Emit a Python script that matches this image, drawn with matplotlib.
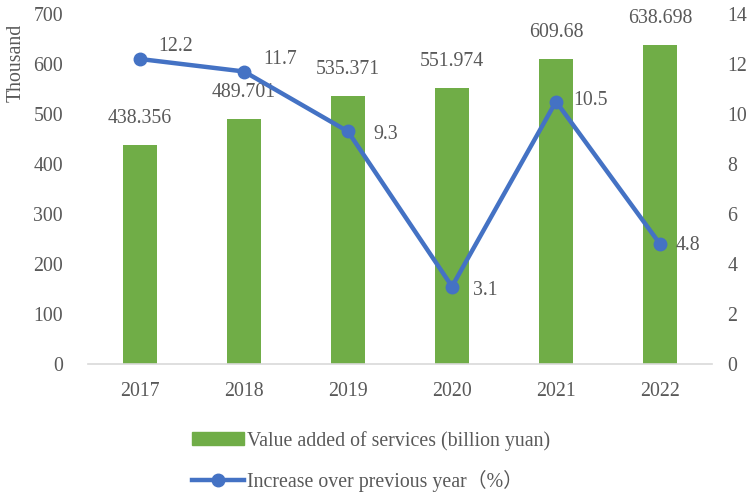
import matplotlib
matplotlib.use("Agg")
import matplotlib.pyplot as plt
from matplotlib.lines import Line2D
from matplotlib.patches import Patch

years = ["2017", "2018", "2019", "2020", "2021", "2022"]
value_added = [438.356, 489.701, 535.371, 551.974, 609.68, 638.698]
value_labels = ["438.356", "489.701", "535.371", "551.974", "609.68", "638.698"]
growth = [12.2, 11.7, 9.3, 3.1, 10.5, 4.8]
growth_labels = ["12.2", "11.7", "9.3", "3.1", "10.5", "4.8"]
left_ticks = [0, 100, 200, 300, 400, 500, 600, 700]
right_ticks = [0, 2, 4, 6, 8, 10, 12, 14]

GREEN = "#70AD47"
BLUE = "#4472C4"
GREY = "#595959"
plt.rcParams['font.family'] = ['Liberation Serif', 'Noto Sans CJK SC', 'DejaVu Serif']
FS = 14.3

fig = plt.figure(figsize=(7.51, 4.92), dpi=100)
ax = fig.add_axes([88/751, 1-364/492, 624/751, 350/492])
x = list(range(len(years)))
ax.bar(x, value_added, width=0.32, color=GREEN, zorder=2)
ax.set_xlim(-0.5, len(years)-0.5)
ax.set_ylim(0, 700)
ax.set_yticks(left_ticks)
ax.set_xticks(x)
ax.set_xticklabels(years)
for s in ["top", "right", "left"]:
    ax.spines[s].set_visible(False)
ax.spines["bottom"].set_color("#D9D9D9")
ax.spines["bottom"].set_linewidth(1.2)
ax.tick_params(axis="both", length=0, labelsize=FS, colors=GREY)
ax.tick_params(axis="x", pad=13)
ax.tick_params(axis="y", pad=18)
ax.set_ylabel("Thousand", fontsize=FS, color=GREY, labelpad=8)
ax.yaxis.set_label_coords(-0.1, 0.86)

for xi, v, lab in zip(x, value_added, value_labels):
    ax.annotate(lab, (xi, v), xytext=(0, 19), textcoords="offset points",
                ha="center", va="center", fontsize=FS, color=GREY)

ax2 = ax.twinx()
ax2.set_ylim(0, 14)
ax2.set_yticks(right_ticks)
for s in ["top", "right", "left", "bottom"]:
    ax2.spines[s].set_visible(False)
ax2.tick_params(axis="y", length=0, labelsize=FS, colors=GREY, pad=11)
ax2.plot(x, growth, color=BLUE, lw=3.2, marker="o", ms=9, zorder=3)

offsets = [(26, 9), (26, 9), (27, -2), (24, -3), (25, 1), (20, -1)]
for xi, g, lab, off in zip(x, growth, growth_labels, offsets):
    ax2.annotate(lab, (xi, g), xytext=off, textcoords="offset points",
                 ha="center", va="center", fontsize=FS, color=GREY)

handles = [Patch(color=GREEN),
           Line2D([0], [0], color=BLUE, lw=3.2, marker="o", ms=9)]
labels = ["Value added of services (billion yuan)", "Increase over previous year（%）"]
leg = fig.legend(handles, labels, loc="upper left", bbox_to_anchor=(174/751, 1-413/492),
                 frameon=False, fontsize=FS, handlelength=2.6, handletextpad=0.2,
                 labelspacing=0.95, handleheight=0.6)
for t in leg.get_texts():
    t.set_color(GREY)

fig.savefig("out.png", dpi=100)
